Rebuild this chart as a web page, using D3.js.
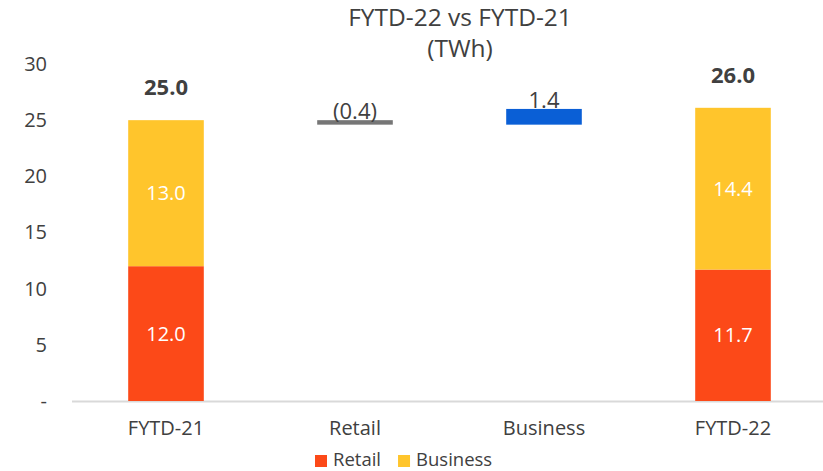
<!DOCTYPE html>
<html>
<head>
<meta charset="utf-8">
<script src="https://cdn.jsdelivr.net/npm/d3@7"></script>
<style>
  body { margin: 0; background: #fff; }
  svg { display: block; font-family: "Open Sans", sans-serif; }
</style>
</head>
<body>
<svg id="chart" width="823" height="471"></svg>
<script>
// chart data
var categories = ["FYTD-21", "Retail", "Business", "FYTD-22"];
var retailValues = [12.0, null, null, 11.7];
var businessValues = [13.0, null, null, 14.4];
var totalLabels = ["25.0", null, null, "26.0"];
var deltaValues = [null, -0.4, 1.4, null];
var deltaLabels = [null, "(0.4)", "1.4", null];
var yTicks = [0, 5, 10, 15, 20, 25, 30];
var legendItems = ["Retail", "Business"];

var colors = { Retail: "#FC4918", Business: "#FFC52C", neg: "#767676", pos: "#0A5FD6" };
var textColor = "#404040";
var font = "'Open Sans', sans-serif";

var svg = d3.select("#chart");

var x = d3.scaleBand().domain(categories).range([71.5, 827.5]).paddingInner(0.6).paddingOuter(0.3);
var y = d3.scaleLinear().domain([0, 30]).range([401, 64]);

// title
svg.append("text").attr("x", 460).attr("y", 26).attr("text-anchor", "middle")
  .attr("font-size", 24.5).attr("fill", textColor).text("FYTD-22 vs FYTD-21");
svg.append("text").attr("x", 460).attr("y", 57).attr("text-anchor", "middle")
  .attr("font-size", 24.5).attr("fill", textColor).text("(TWh)");

// y axis labels (no line)
var yAxis = svg.append("g").attr("transform", "translate(47,0)")
  .call(d3.axisLeft(y).tickValues(yTicks).tickSize(0).tickPadding(0)
    .tickFormat(function(d) { return d === 0 ? "-" : d; }));
yAxis.select(".domain").remove();
yAxis.selectAll("text").attr("font-size", 20).attr("fill", textColor).attr("font-family", font);

// baseline
svg.append("line").attr("x1", 72).attr("x2", 830).attr("y1", y(0) + 0.5).attr("y2", y(0) + 0.5)
  .attr("stroke", "#d9d9d9").attr("stroke-width", 2);

// x axis labels
var xAxis = svg.append("g").attr("transform", "translate(0," + y(0) + ")")
  .call(d3.axisBottom(x).tickSize(0).tickPadding(20));
xAxis.select(".domain").remove();
xAxis.selectAll("text").attr("font-size", 20).attr("fill", textColor).attr("font-family", font);

// stacked total bars
var bw = x.bandwidth();
categories.forEach(function(c, i) {
  if (retailValues[i] == null) return;
  var r = retailValues[i], b = businessValues[i];
  svg.append("rect").attr("x", x(c)).attr("width", bw)
    .attr("y", y(r)).attr("height", y(0) - y(r)).attr("fill", colors.Retail);
  svg.append("rect").attr("x", x(c)).attr("width", bw)
    .attr("y", y(r + b)).attr("height", y(r) - y(r + b)).attr("fill", colors.Business);
  svg.append("text").attr("x", x(c) + bw / 2).attr("y", (y(0) + y(r)) / 2 + 7)
    .attr("text-anchor", "middle").attr("font-size", 20).attr("fill", "#fff").text(r.toFixed(1));
  svg.append("text").attr("x", x(c) + bw / 2).attr("y", (y(r) + y(r + b)) / 2 + 7)
    .attr("text-anchor", "middle").attr("font-size", 20).attr("fill", "#fff").text(b.toFixed(1));
  svg.append("text").attr("x", x(c) + bw / 2).attr("y", y(r + b) - 25)
    .attr("text-anchor", "middle").attr("font-size", 22).attr("font-weight", "bold")
    .attr("fill", textColor).text(totalLabels[i]);
});

// waterfall deltas
var running = retailValues[0] + businessValues[0];
categories.forEach(function(c, i) {
  if (deltaValues[i] == null) return;
  var start = running, end = running + deltaValues[i];
  running = end;
  var top = Math.max(start, end), bot = Math.min(start, end);
  svg.append("rect").attr("x", x(c)).attr("width", bw)
    .attr("y", y(top)).attr("height", y(bot) - y(top))
    .attr("fill", deltaValues[i] < 0 ? colors.neg : colors.pos);
  svg.append("text").attr("x", x(c) + bw / 2).attr("y", y(top) - 1)
    .attr("text-anchor", "middle").attr("font-size", 22).attr("fill", textColor).text(deltaLabels[i]);
});

// legend
var legend = svg.append("g").attr("transform", "translate(315,455)");
var lx = 0;
legendItems.forEach(function(name) {
  legend.append("rect").attr("x", lx).attr("y", 0).attr("width", 12).attr("height", 12).attr("fill", colors[name]);
  var t = legend.append("text").attr("x", lx + 18).attr("y", 10.5).attr("font-size", 18.5)
    .attr("fill", textColor).text(name);
  lx += 18 + t.node().getComputedTextLength() + 17;
});
</script>
</body>
</html>
